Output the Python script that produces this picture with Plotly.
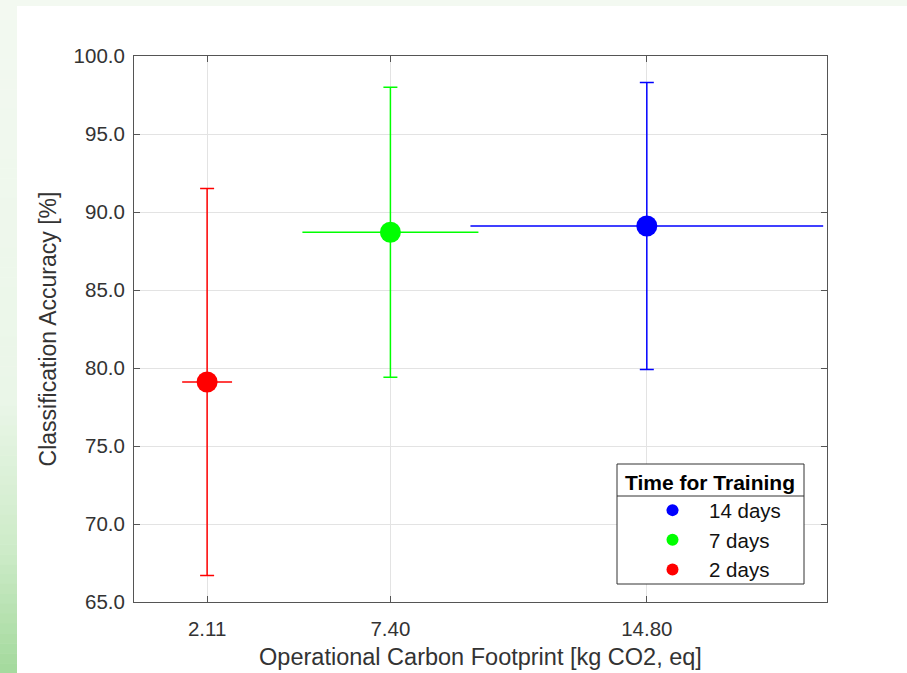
import plotly.graph_objects as go

# ---- data ----
groups = ["2 days", "7 days", "14 days"]
footprint = [2.11, 7.40, 14.80]
footprint_err = [0.72, 2.54, 5.09]
accuracy = [79.1, 88.7, 89.1]
accuracy_err = [12.4, 9.3, 9.2]
colors = ["rgb(255,0,0)", "rgb(0,255,0)", "rgb(0,0,255)"]
x_ticks = [2.11, 7.40, 14.80]
x_ticktext = ["2.11", "7.40", "14.80"]
y_ticks = [65, 70, 75, 80, 85, 90, 95, 100]

W, H = 907, 673
L, R, T, B = 134, 827, 56, 602  # plot area in px

def px_x(p):
    return (p - L) / (R - L)

def px_y(p):
    return (B - p) / (B - T)

fig = go.Figure()

# plot in reverse order so legend shows 14, 7, 2
for i in [2, 1, 0]:
    fig.add_trace(go.Scatter(
        x=[footprint[i]], y=[accuracy[i]], mode="markers", name=groups[i],
        marker=dict(color=colors[i], size=21),
        error_x=dict(type="data", array=[footprint_err[i]], color=colors[i], thickness=1.5, width=0),
        error_y=dict(type="data", array=[accuracy_err[i]], color=colors[i], thickness=1.5, width=7),
    ))

shapes = []
# top light strip
shapes.append(dict(type="rect", xref="paper", yref="paper", layer="below",
                   x0=px_x(0), x1=px_x(W), y0=px_y(6), y1=px_y(0),
                   fillcolor="#f3f9f1", line=dict(width=0)))

# left gradient strip
def lerp(c1, c2, t):
    return tuple(round(a + (b - a) * t) for a, b in zip(c1, c2))

stops = [(0, (243, 249, 241)), (400, (234, 246, 232)), (550, (205, 235, 200)), (673, (163, 217, 156))]
n = 68
for k in range(n):
    y0 = k * H / n
    y1 = (k + 1) * H / n
    ym = (y0 + y1) / 2
    for j in range(len(stops) - 1):
        if stops[j][0] <= ym <= stops[j + 1][0]:
            t = (ym - stops[j][0]) / (stops[j + 1][0] - stops[j][0])
            c = lerp(stops[j][1], stops[j + 1][1], t)
            break
    shapes.append(dict(type="rect", xref="paper", yref="paper", layer="below",
                       x0=px_x(0), x1=px_x(17), y0=px_y(y1 + 0.5), y1=px_y(y0),
                       fillcolor="rgb(%d,%d,%d)" % c, line=dict(width=0)))

# legend box and title separator
shapes.append(dict(type="rect", xref="paper", yref="paper", layer="above",
                   x0=px_x(617), x1=px_x(804), y0=px_y(584), y1=px_y(464),
                   fillcolor="white", line=dict(color="#333333", width=1)))
shapes.append(dict(type="line", xref="paper", yref="paper", layer="above",
                   x0=px_x(617), x1=px_x(804), y0=px_y(496), y1=px_y(496),
                   line=dict(color="#333333", width=1)))

axis_common = dict(
    showline=True, linecolor="#555555", linewidth=1, mirror="ticks",
    ticks="inside", ticklen=6, tickcolor="#555555",
    showgrid=True, gridcolor="#e3e3e3", gridwidth=1, zeroline=False,
    tickfont=dict(family="Liberation Sans, Arial", size=20.5, color="#333333"),
)

fig.update_layout(
    width=W, height=H,
    margin=dict(l=L, r=W - R, t=T, b=H - B, autoexpand=False),
    paper_bgcolor="white", plot_bgcolor="white",
    showlegend=True,
    shapes=shapes,
    xaxis=dict(range=[0, 20], tickvals=x_ticks, ticktext=x_ticktext, ticklabelstandoff=8,
               title=dict(text="Operational Carbon Footprint [kg CO2, eq]",
                          font=dict(family="Liberation Sans, Arial", size=23.5, color="#333333"),
                          standoff=9),
               **axis_common),
    yaxis=dict(range=[65, 100], tickvals=y_ticks, tickformat=".1f", ticklabelstandoff=4,
               title=dict(text="Classification Accuracy [%]",
                          font=dict(family="Liberation Sans, Arial", size=23, color="#333333"),
                          standoff=10),
               **axis_common),
    legend=dict(
        x=px_x(617), y=px_y(463), xanchor="left", yanchor="top",
        bgcolor="rgba(0,0,0,0)", borderwidth=0,
        font=dict(family="Liberation Sans, Arial", size=20.5, color="#111111"),
        title=dict(text="\u00a0<b>Time for Training</b>\u00a0", side="top center",
                   font=dict(family="Liberation Sans, Arial", size=21, color="#000000")),
        itemsizing="constant", tracegroupgap=0, indentation=19, itemwidth=63,
    ),
    font=dict(family="Liberation Sans, Arial"),
)

fig.write_html("out.html", post_script="document.body.style.margin='0';",
               config={"displayModeBar": False})
